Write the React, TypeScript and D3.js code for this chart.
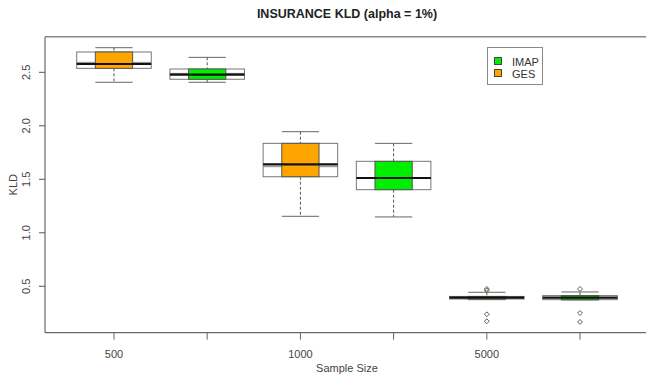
import * as d3 from "d3";

// one entry per box, left to right
const GROUPS = ["500", "", "1000", "", "5000", ""];
const SERIES = ["GES", "IMAP", "GES", "IMAP", "GES", "IMAP"];
const LOW = [2.407, 2.407, 1.154, 1.148, 0.375, 0.372];
const Q1 = [2.537, 2.435, 1.524, 1.403, 0.381, 0.375];
const MEDIAN = [2.578, 2.478, 1.64, 1.512, 0.393, 0.393];
const MEDIAN2 = [2.593, 2.49, 1.618, 1.512, 0.393, 0.393];
const Q3 = [2.69, 2.531, 1.836, 1.668, 0.405, 0.413];
const HIGH = [2.73, 2.64, 1.945, 1.836, 0.444, 0.447];
const OUTLIERS = [[], [], [], [], [0.475, 0.462, 0.238, 0.173], [0.475, 0.25, 0.167]];
const Y_TICKS = [0.5, 1.0, 1.5, 2.0, 2.5];

const COLORS: Record<string, string> = { GES: "#FFA500", IMAP: "#00EE00" };
const LEGEND = ["IMAP", "GES"];

const W = 646;
const H = 376;
const FONT = "Liberation Sans, Arial, sans-serif";

export default function App() {
  const left = 45, top = 36.7, bottom = 332.7;
  const x = d3.scaleLinear().domain([0.26, 6.74]).range([left, 649]);
  const y = d3.scaleLinear().domain([0.066, 2.833]).range([bottom, top]);
  const bw = 93.2; // px per unit
  const wide = 0.8 * bw;
  const narrow = 0.4 * bw;
  const marker = d3.symbol().type(d3.symbolSquare).size(12);

  return (
    <svg width={W} height={H} style={{ position: "absolute", left: 0, top: 0, background: "#fff" }} fontFamily={FONT}>
      <text x={347} y={18} textAnchor="middle" fontSize={12.5} fontWeight="bold" fill="#222">
        INSURANCE KLD (alpha = 1%)
      </text>

      {/* frame */}
      <line x1={left} x2={W} y1={top} y2={top} stroke="#888" strokeWidth={1.5} />
      <line x1={left} x2={left} y1={top} y2={bottom} stroke="#888" strokeWidth={1.5} />
      <line x1={left} x2={W} y1={bottom} y2={bottom} stroke="#444" strokeWidth={1} />

      {/* y axis */}
      {Y_TICKS.map((t) => (
        <g key={t}>
          <line x1={left - 6} x2={left} y1={y(t)} y2={y(t)} stroke="#555" />
          <text transform={`translate(${left - 15},${y(t)}) rotate(-90)`} textAnchor="middle" fontSize={11} fill="#444">
            {t.toFixed(1)}
          </text>
        </g>
      ))}
      <text transform={`translate(17,${(top + bottom) / 2}) rotate(-90)`} textAnchor="middle" fontSize={11} fill="#444">
        KLD
      </text>

      {/* x axis */}
      {GROUPS.map((g, i) => (
        <g key={i}>
          <line x1={x(i + 1)} x2={x(i + 1)} y1={bottom} y2={bottom + 7} stroke="#666" />
          {g && (
            <text x={x(i + 1)} y={358} textAnchor="middle" fontSize={11} fill="#444">
              {g}
            </text>
          )}
        </g>
      ))}
      <text x={347} y={372} textAnchor="middle" fontSize={11} fill="#444">
        Sample Size
      </text>

      {/* boxes */}
      {SERIES.map((s, i) => {
        const cx = x(i + 1);
        return (
          <g key={i}>
            <line x1={cx} x2={cx} y1={y(HIGH[i])} y2={y(Q3[i])} stroke="#555" strokeDasharray="3,2" />
            <line x1={cx} x2={cx} y1={y(Q1[i])} y2={y(LOW[i])} stroke="#555" strokeDasharray="3,2" />
            <line x1={cx - narrow / 2} x2={cx + narrow / 2} y1={y(HIGH[i])} y2={y(HIGH[i])} stroke="#666" />
            <line x1={cx - narrow / 2} x2={cx + narrow / 2} y1={y(LOW[i])} y2={y(LOW[i])} stroke="#666" />
            <rect x={cx - wide / 2} y={y(Q3[i])} width={wide} height={y(Q1[i]) - y(Q3[i])} fill="#fff" stroke="#777" />
            <line x1={cx - wide / 2} x2={cx + wide / 2} y1={y(MEDIAN2[i])} y2={y(MEDIAN2[i])} stroke="#888" />
            <rect x={cx - narrow / 2} y={y(Q3[i])} width={narrow} height={y(Q1[i]) - y(Q3[i])} fill={COLORS[s]} stroke="#555" />
            <line x1={cx - wide / 2} x2={cx + wide / 2} y1={y(MEDIAN[i])} y2={y(MEDIAN[i])} stroke="#111" strokeWidth={2.2} />
            {OUTLIERS[i].map((o, j) => (
              <path key={j} d={marker() ?? ""} transform={`translate(${cx},${y(o)}) rotate(45)`} fill="none" stroke="#555" strokeWidth={0.9} />
            ))}
          </g>
        );
      })}

      {/* legend */}
      <rect x={487.5} y={47.5} width={55} height={37} fill="#fff" stroke="#888" />
      {LEGEND.map((s, i) => (
        <g key={s}>
          <rect x={494.5} y={57.5 + i * 12} width={7} height={7} fill={COLORS[s]} stroke="#444" />
          <text x={512} y={65.5 + i * 12} fontSize={11} fill="#333">
            {s}
          </text>
        </g>
      ))}
    </svg>
  );
}
